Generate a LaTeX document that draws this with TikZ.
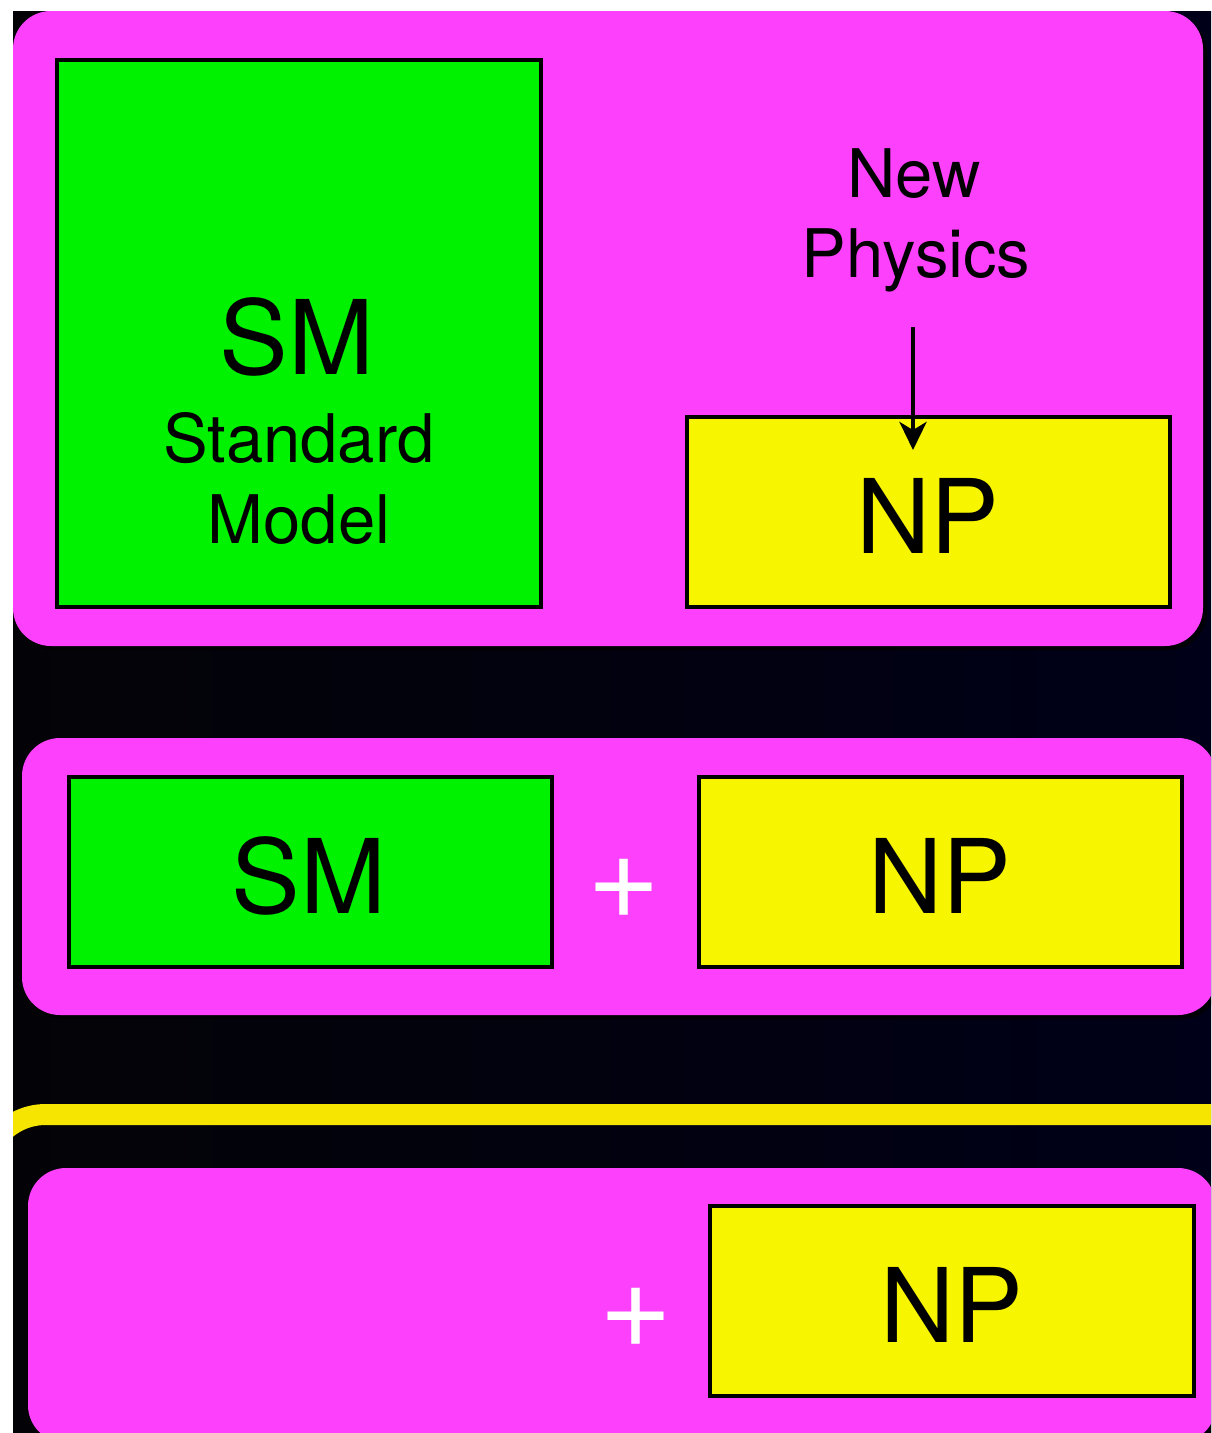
\documentclass[tikz,border=0pt]{standalone}
\usepackage{fontspec}
\setmainfont{TeX Gyre Heros}
\usetikzlibrary{arrows.meta}
\definecolor{mag}{RGB}{252,64,252}
\definecolor{smgreen}{RGB}{0,242,0}
\definecolor{npyellow}{RGB}{248,245,0}
\definecolor{bandyellow}{RGB}{245,229,0}
\definecolor{bgL}{RGB}{3,3,7}
\definecolor{bgR}{RGB}{0,0,24}
\tikzset{
  panel/.style={fill=mag, rounded corners=38pt},
  pshadow/.style={fill=black, opacity=0.75, rounded corners=38pt},
  greenbox/.style={draw=black, line width=4.6pt, fill=smgreen, rectangle, inner sep=0pt, minimum width=484pt, minimum height=190pt},
  yellowbox/.style={draw=black, line width=4.6pt, fill=npyellow, rectangle, inner sep=0pt, minimum width=484pt, minimum height=190pt},
  biglabel/.style={font=\fontsize{103}{103}\selectfont, anchor=base, inner sep=0pt, text=black},
  midlabel/.style={font=\fontsize{67}{67}\selectfont, anchor=base, inner sep=0pt, text=black},
  pluslabel/.style={font=\fontsize{125}{125}\selectfont, inner sep=0pt, text=white},
  arrowline/.style={line width=4.4pt, -{Stealth[length=28pt, width=27pt, inset=8pt]}}
}
\begin{document}
\begin{tikzpicture}[x=1pt,y=-1pt]
\useasboundingbox (0,0) rectangle (1211,1433);
\fill[white] (0,0) rectangle (1211,1433);
\begin{scope}
\clip (13,11) rectangle (1211,1433);
\shade[left color=bgL, right color=bgR] (13,11) rectangle (1211,1433);
% panel 1
\fill[pshadow] (16,15) rectangle (1207,650);
\fill[panel] (13,11) rectangle (1203,646);
% panel 2
\fill[pshadow] (25,742) rectangle (1220,1019);
\fill[panel] (22,738) rectangle (1216,1015);
% yellow band
\draw[bandyellow, line width=21pt, rounded corners=62pt] (-16.3,1400) -- (-16.3,1114.5) -- (1240,1114.5);
% panel 3
\fill[pshadow] (31,1172) rectangle (1220,1447);
\fill[panel] (28,1168) rectangle (1216,1443);
\end{scope}

% panel 1 content
\node[greenbox, minimum height=547pt] (sm1) at (299,333.5) {};
\node[biglabel] (sm1t) at (297,374) {SM};
\node[midlabel] (std) at (299,462) {Standard};
\node[midlabel] (mdl) at (299,543) {Model};
\node[midlabel] (new) at (914,197) {New};
\node[midlabel] (phys) at (916,277) {Physics};
\node[yellowbox, minimum width=483pt] (np1) at (928.5,512) {};
\node[biglabel] (np1t) at (928,553) {NP};
\coordinate (arrS) at (913,327);
\coordinate (arrE) at (913,450);
\draw[arrowline] (arrS) -- (arrE);

% panel 2 content
\node[greenbox, minimum width=483pt] (sm2) at (310.5,872) {};
\node[biglabel] (sm2t) at (309,913) {SM};
\node[pluslabel] (plus2) at (624,889) {+};
\node[yellowbox, minimum width=483pt] (np2) at (940.5,872) {};
\node[biglabel] (np2t) at (940,913) {NP};

% panel 3 content
\node[pluslabel] (plus3) at (636,1318) {+};
\node[yellowbox] (np3) at (952,1301) {};
\node[biglabel] (np3t) at (952,1342) {NP};
\end{tikzpicture}
\end{document}
